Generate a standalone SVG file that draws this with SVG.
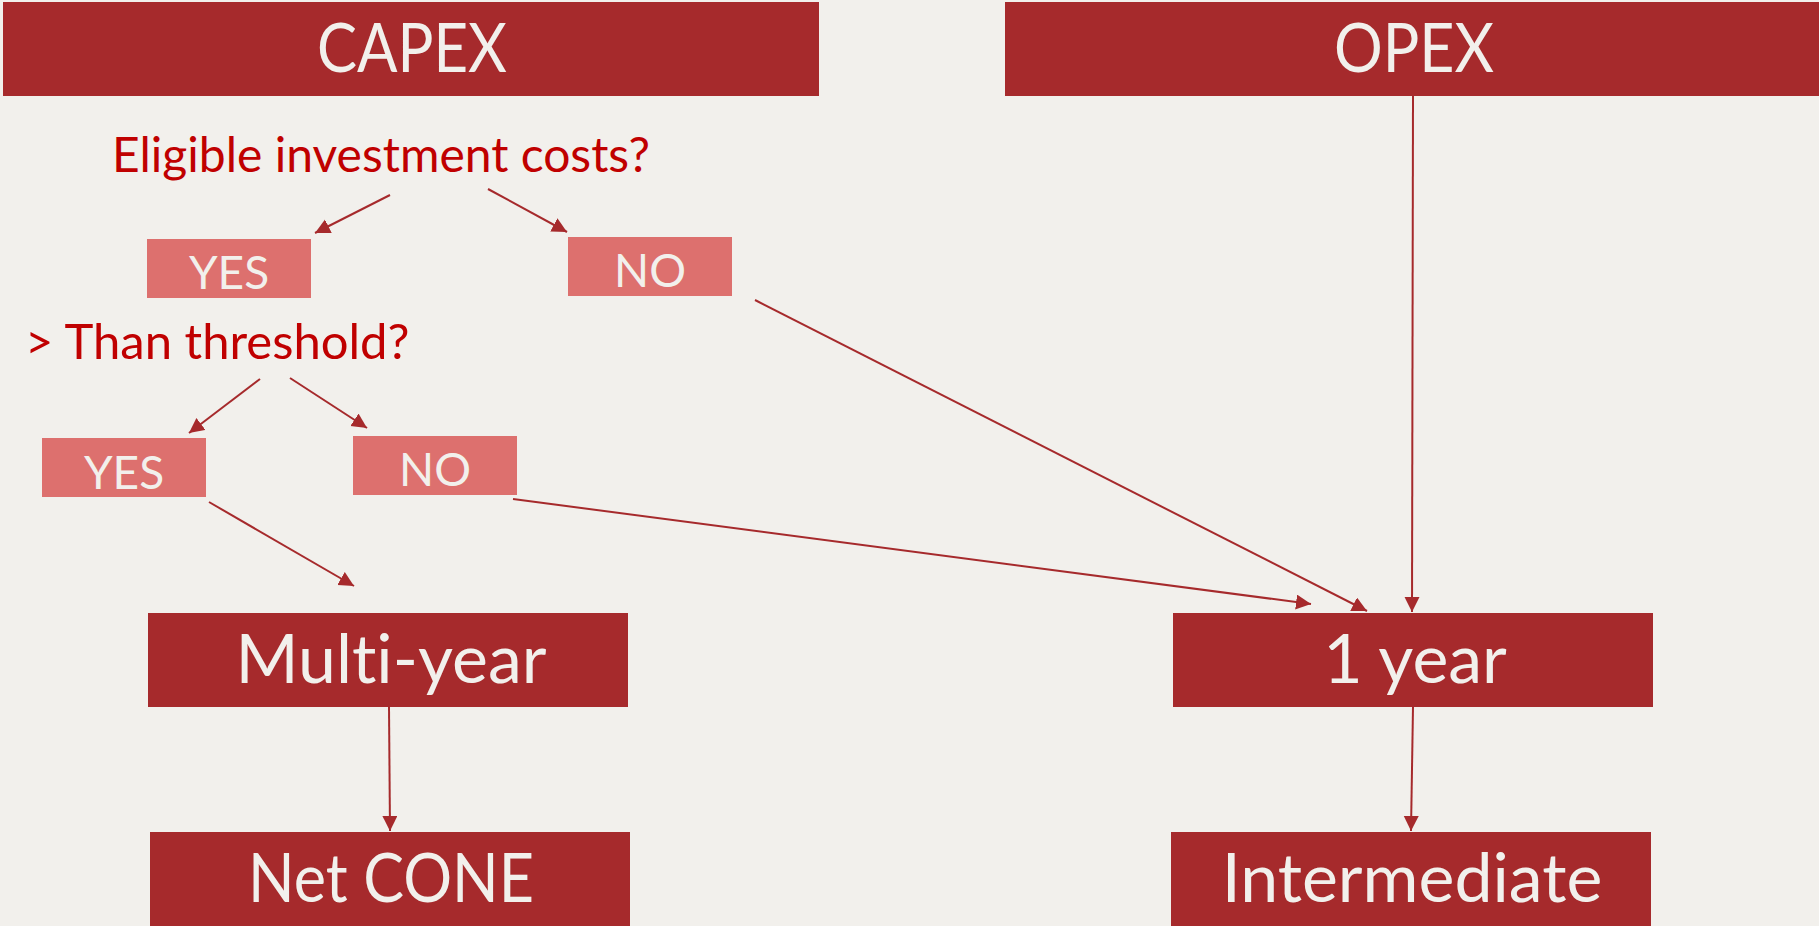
<svg xmlns="http://www.w3.org/2000/svg" width="1819" height="926" viewBox="0 0 1819 926">
  <style>
    text { font-family: Lato, "Open Sans", sans-serif; font-variant-ligatures: none; }
    .dark { fill: #A62A2C; }
    .light { fill: #DD706E; }
    .big { font-size: 68px; fill: #F2F0EC; text-anchor: middle; }
    .small { font-size: 46px; fill: #F2F0EC; text-anchor: middle; }
    .question { font-size: 49px; fill: #C00000; }
    .conn line { stroke: #A62A2C; stroke-width: 2; marker-end: url(#arrow); }
  </style>
  <defs>
    <marker id="arrow" markerUnits="userSpaceOnUse" markerWidth="16" markerHeight="16" refX="15" refY="7.5" orient="auto">
      <path d="M0,0 L15,7.5 L0,15 z" fill="#A62A2C"/>
    </marker>
  </defs>

  <rect x="0" y="0" width="1819" height="926" fill="#F2F0EC"/>

  <g id="capex">
    <rect class="dark" x="3" y="2" width="816" height="94"/>
    <text class="big" x="412" y="72" textLength="190" lengthAdjust="spacingAndGlyphs">CAPEX</text>
  </g>
  <g id="opex">
    <rect class="dark" x="1005" y="2" width="814" height="94"/>
    <text class="big" x="1414" y="72" textLength="160" lengthAdjust="spacingAndGlyphs">OPEX</text>
  </g>

  <g id="q-eligible">
    <text class="question" x="112" y="172" style="font-size:48px">Eligible investment costs?</text>
  </g>
  <g id="yes-eligible">
    <rect class="light" x="147" y="239" width="164" height="59"/>
    <text class="small" x="229" y="289">YES</text>
  </g>
  <g id="no-eligible">
    <rect class="light" x="568" y="237" width="164" height="59"/>
    <text class="small" x="650" y="287">NO</text>
  </g>

  <g id="q-threshold">
    <text class="question" x="25" y="359">&gt; Than threshold?</text>
  </g>
  <g id="yes-threshold">
    <rect class="light" x="42" y="438" width="164" height="59"/>
    <text class="small" x="124" y="489">YES</text>
  </g>
  <g id="no-threshold">
    <rect class="light" x="353" y="436" width="164" height="59"/>
    <text class="small" x="435" y="486">NO</text>
  </g>

  <g id="multi-year">
    <rect class="dark" x="148" y="613" width="480" height="94"/>
    <text class="big" x="391" y="683">Multi-year</text>
  </g>
  <g id="one-year">
    <rect class="dark" x="1173" y="613" width="480" height="94"/>
    <text class="big" x="1415" y="683">1 year</text>
  </g>
  <g id="net-cone">
    <rect class="dark" x="150" y="832" width="480" height="94"/>
    <text class="big" x="391" y="902" textLength="286" lengthAdjust="spacingAndGlyphs">Net CONE</text>
  </g>
  <g id="intermediate">
    <rect class="dark" x="1171" y="832" width="480" height="94"/>
    <text class="big" x="1412" y="902">Intermediate</text>
  </g>

  <g id="connectors" class="conn">
    <line x1="390" y1="195" x2="315" y2="233"/>
    <line x1="488" y1="189" x2="567" y2="232"/>
    <line x1="260" y1="379" x2="189" y2="433"/>
    <line x1="290" y1="378" x2="367" y2="428"/>
    <line x1="209" y1="502" x2="354" y2="586"/>
    <line x1="513" y1="499" x2="1311" y2="604"/>
    <line x1="755" y1="300" x2="1367" y2="611"/>
    <line x1="1413" y1="96" x2="1412" y2="612"/>
    <line x1="389" y1="707" x2="390" y2="831"/>
    <line x1="1413" y1="707" x2="1411" y2="831"/>
  </g>
</svg>
